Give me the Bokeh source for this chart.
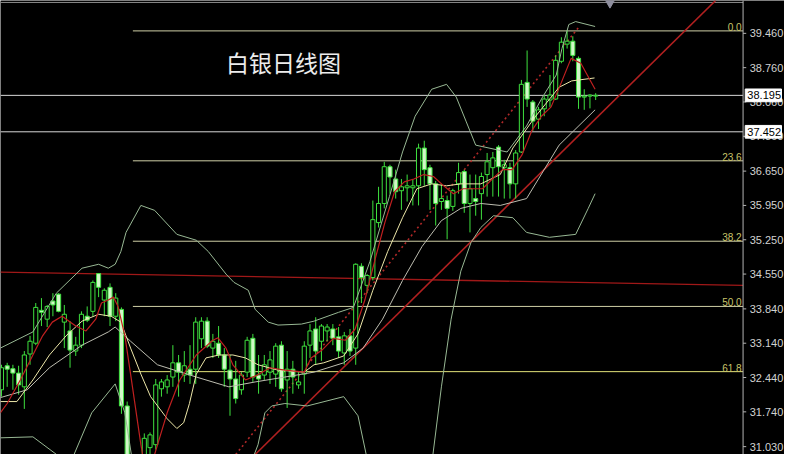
import numpy as np
from bokeh.plotting import figure
from bokeh.models import Range1d, ColumnDataSource
from bokeh.embed import file_html
from bokeh.resources import INLINE

# ---- daily candles (silver) ----
opens = [32.19, 32.68, 32.62, 32.53, 32.25, 32.92, 33.14, 33.81, 33.63, 34.00,
         34.14, 33.57, 33.39, 32.98, 33.10, 33.69, 33.79, 34.56, 34.02, 34.28,
         33.69, 33.83, 31.86, 29.60, 29.85, 30.50, 31.01, 31.07, 32.21, 32.25,
         32.45, 32.74, 32.49, 32.61, 32.61, 33.23, 33.59, 33.04, 33.14, 32.90,
         32.59, 32.41, 32.19, 32.55, 33.24, 32.49, 32.49, 32.55, 32.51, 33.10,
         32.39, 32.61, 32.29, 32.51, 33.10, 33.43, 33.18, 33.39, 33.43, 33.27,
         32.94, 33.29, 33.04, 34.71, 34.32, 34.48, 35.60, 35.99, 36.74, 36.49,
         36.25, 36.31, 36.31, 36.35, 37.12, 36.72, 36.39, 36.03, 36.05, 35.93,
         36.39, 36.64, 35.99, 36.09, 36.19, 36.58, 36.72, 37.14, 36.72, 36.72,
         36.39, 37.04, 38.46, 38.06, 37.71, 37.92, 38.10, 38.12, 38.89, 39.24,
         39.30, 38.95, 38.16, 38.18, 38.18]
highs = [32.70, 32.74, 32.70, 32.68, 32.98, 33.29, 33.96, 34.06, 33.92, 34.16,
         34.16, 33.92, 33.59, 33.27, 33.79, 33.89, 34.42, 34.57, 34.26, 34.36,
         34.16, 33.87, 31.95, 30.40, 30.50, 31.30, 31.32, 32.41, 32.41, 32.49,
         33.10, 32.90, 32.98, 33.10, 33.67, 33.67, 33.67, 33.33, 33.49, 33.04,
         32.90, 32.78, 32.55, 33.27, 33.33, 32.90, 32.90, 32.98, 33.14, 33.18,
         32.98, 32.78, 32.55, 33.18, 33.53, 33.67, 33.53, 33.53, 33.53, 33.47,
         33.37, 33.43, 34.77, 34.77, 34.55, 36.05, 36.33, 36.84, 36.78, 36.68,
         36.49, 36.58, 36.49, 37.21, 37.27, 36.78, 36.45, 36.39, 36.15, 36.29,
         36.82, 36.68, 36.58, 36.58, 36.62, 37.02, 37.04, 37.18, 36.88, 36.82,
         37.08, 38.51, 39.11, 38.10, 37.96, 38.20, 38.61, 39.01, 39.38, 39.52,
         39.40, 38.99, 38.32, 38.22, 38.24]
lows = [32.05, 32.25, 32.19, 32.09, 31.80, 32.70, 33.10, 33.49, 33.47, 33.69,
        33.77, 33.04, 32.64, 32.88, 33.04, 33.57, 33.69, 34.08, 33.69, 33.49,
        33.59, 31.70, 29.50, 28.27, 29.60, 30.20, 30.87, 30.97, 32.05, 32.11,
        32.25, 32.05, 32.35, 32.31, 32.31, 33.04, 33.04, 32.84, 32.84, 32.25,
        31.66, 31.91, 32.09, 32.45, 32.35, 32.11, 32.39, 32.31, 32.25, 32.15,
        31.82, 32.11, 32.21, 32.11, 32.84, 32.70, 32.78, 33.18, 33.10, 32.84,
        32.70, 32.88, 32.70, 33.96, 34.16, 34.42, 35.50, 35.89, 36.19, 36.09,
        35.86, 36.03, 35.95, 35.95, 36.35, 35.86, 35.54, 35.86, 35.26, 35.84,
        36.19, 35.80, 35.40, 35.74, 35.66, 36.13, 36.13, 36.13, 36.09, 36.09,
        36.09, 37.02, 37.96, 37.47, 37.51, 37.77, 37.96, 38.10, 38.85, 39.15,
        38.89, 37.92, 37.90, 37.93, 38.10]
closes = [32.64, 32.61, 32.53, 32.29, 32.90, 33.18, 33.87, 33.77, 33.89, 33.92,
          33.79, 33.73, 33.00, 33.10, 33.73, 33.61, 34.38, 34.28, 34.22, 33.69,
          34.06, 31.86, 29.60, 29.85, 30.30, 31.20, 31.27, 32.29, 32.35, 32.39,
          32.74, 32.55, 32.68, 32.49, 33.57, 33.59, 33.08, 33.18, 32.90, 32.61,
          32.41, 32.01, 32.49, 33.20, 32.45, 32.41, 32.70, 32.80, 33.08, 32.21,
          32.61, 32.45, 32.35, 33.08, 33.39, 32.98, 33.49, 33.47, 33.24, 32.98,
          33.29, 32.98, 34.75, 34.48, 34.52, 35.66, 35.99, 36.74, 36.53, 36.23,
          36.33, 36.35, 36.35, 37.12, 36.68, 36.39, 35.99, 36.09, 35.89, 36.25,
          36.62, 35.99, 36.29, 36.03, 36.54, 36.84, 36.92, 36.74, 36.78, 36.39,
          37.02, 38.42, 38.12, 37.67, 37.90, 38.12, 38.20, 38.91, 39.28, 39.30,
          39.01, 38.16, 38.18, 38.20, 38.195]

# ---- indicator lines (bar position, price) ----
nan = float("nan")
bb_up_x = [-0.2, 5.5, 9.6, 14.1, 17.0, 18.7, 19.9, 20.9, 21.8, 24.4, 26.8, 30.7, 34.1, 36.2, 39.3, 40.7, 43.2,
           44.4, 46.7, 48.4, 52.5, 54.7, 59.0, 61.6, 64.5, 67.9, 70.2, 72.4, 75.3, 77.9, 79.6, 81.3,
           83.0, 88.5, 91.9, 94.7, 97.1, 98.1, 99.3, 100.5, 103.9]
bb_up_y = [33.04, 33.37, 34.16, 34.67, 34.75, 34.67, 34.75, 35.01, 35.40, 35.95, 35.85, 35.36, 35.24, 35.01, 34.55, 34.38, 34.22,
           33.83, 33.57, 33.51, 33.53, 33.59, 33.77, 33.87, 34.81, 36.13, 37.04, 37.77, 38.32, 38.42, 38.16, 37.67,
           37.18, 37.04, 37.57, 38.16, 38.61, 39.15, 39.64, 39.70, 39.60]
bb_lo_x = [-0.2, 5.5, 10.1, 12.7, 15.8, 19.9, 21.6, 23.0, nan, 43.6, 44.9, 46.1, 47.3, 49.6, 53.5, 59.9,
           62.4, 64.2, nan, 75.3, 77.0, 78.7, 80.4, 82.2, 83.9, 86.1, 89.5, 91.9, 95.9, 100.5, 102.7, 103.9]
bb_lo_y = [31.21, 31.23, 30.83, 30.87, 31.72, 32.31, 31.72, 30.67, nan, 30.67, 31.07, 31.72, 31.86, 31.91, 31.86, 32.05,
           31.66, 30.67, nan, 30.67, 32.25, 33.63, 34.61, 35.20, 35.50, 35.74, 35.70, 35.40, 35.30, 35.36, 35.89, 36.19]
ma20_x = [-0.2, 4.5, 8.4, 14.1, 18.7, 19.9, 22.6, 27.3, 34.1, 39.8, 44.4, 49.6, 54.7, 59.9, 63.3,
          66.7, 70.2, 73.6, 77.0, 80.4, 83.9, 87.3, 91.9, 97.6, 103.9]
ma20_y = [32.03, 32.19, 32.64, 33.10, 33.37, 33.47, 33.18, 32.70, 32.45, 32.25, 32.35, 32.45, 32.55, 32.74, 33.04,
          33.63, 34.42, 35.11, 35.64, 35.89, 35.99, 35.95, 36.09, 37.18, 37.90]
ma10_x = [-0.2, 2.7, 5.5, 8.4, 11.3, 14.1, 17.0, 19.2, 20.9, 22.6, 24.4, 26.1, 29.0, 30.7, 31.9, 32.9,
          34.1, 35.8, 38.1, 40.5, 42.7, 44.9, 48.4, 53.0, 54.7, 56.4, 59.9, 62.4, 65.0, 67.6, 70.2, 72.7,
          75.3, 77.9, 80.4, 83.9, 87.3, 89.5, 93.5, 97.6, 99.8, 103.8]
ma10_y = [31.95, 31.95, 32.39, 32.90, 33.29, 33.59, 33.73, 33.69, 33.57, 33.04, 32.51, 32.05, 31.60, 31.40, 31.52, 31.91,
          32.51, 32.84, 32.90, 32.90, 32.84, 32.70, 32.59, 32.55, 32.70, 32.74, 32.88, 33.33, 34.22, 35.01, 35.70, 36.29,
          36.39, 36.35, 36.39, 36.39, 36.58, 37.12, 37.77, 38.36, 38.49, 38.55]
ma5_x = [-0.2, 1.0, 3.3, 5.5, 7.2, 8.9, 10.6, 13.0, 14.8, 16.5, 17.5, 18.7, 19.6, 20.4, 21.6, 22.6, 24.4,
         25.0, nan, 26.4, 26.8, 29.0, 31.2, 34.1, 37.0, 37.9, 39.3, 40.5, 42.7, 44.8, 47.0, 49.6, 53.0,
         54.2, 56.1, 58.1, 60.2, 61.9, 63.6, 65.3, 67.1, 68.8, 70.5, 72.2, 73.9, 75.6, 77.4, 79.1, 80.8,
         82.5, 84.2, 85.9, 87.7, 89.4, 91.1, 92.8, 94.5, 96.2, 98.0, 99.7, 101.4, 103.9]
ma5_y = [31.72, 31.91, 32.39, 32.90, 33.29, 33.57, 33.69, 33.49, 33.39, 33.63, 33.96, 34.02, 34.08, 33.89, 33.29, 32.51, 31.07,
         30.67, nan, 30.67, 30.87, 31.72, 32.39, 32.90, 33.20, 33.25, 33.04, 32.70, 32.39, 32.49, 32.64, 32.59, 32.55,
         32.84, 33.00, 33.24, 33.20, 33.43, 34.02, 34.81, 35.60, 36.23, 36.43, 36.49, 36.58, 36.54, 36.35, 36.19, 36.29,
         36.29, 36.29, 36.49, 36.68, 36.68, 36.98, 37.47, 37.77, 37.96, 38.46, 38.95, 38.85, 38.32]

# ---- drawn objects ----
flat_line_x = [-0.2, 129.8]
flat_line_y = [34.59, 34.32]
trend_x = [44.4, 125.0]
trend_y = [30.87, 40.13]
dotted_x = [41.0, 101.0]
dotted_y = [30.87, 39.58]
fib_start = 23
fib_levels = [39.51, 36.86, 35.22, 33.89, 32.56]
fib_names = ["0.0", "23.6", "38.2", "50.0", "61.8"]
price_lines = [38.195, 37.452]
price_names = ["38.195", "37.452"]
ticks = [31.03, 31.74, 32.44, 33.14, 33.84, 34.55, 35.25, 35.95, 36.65, 37.36, 38.06, 38.76, 39.46]
tick_labels = ["31.030", "31.740", "32.440", "33.140", "33.840", "34.550", "35.250",
               "35.950", "36.650", "37.360", "38.060", "38.760", "39.460"]
title_text = "白银日线图"

# view window: bar positions / prices shown (the price scale sits at the right of the frame)
X0, X1 = -0.17, 137.05
Y0, Y1 = 30.87, 40.13
XAX = 129.8          # bar position of the price-scale line

p = figure(width=784, height=454, x_range=Range1d(X0, X1), y_range=Range1d(Y0, Y1),
           x_axis_location=None, y_axis_location=None,
           output_backend="svg", toolbar_location=None,
           background_fill_color="black", border_fill_color="black",
           min_border_left=0, min_border_top=0, min_border_bottom=0, min_border_right=0,
           outline_line_color=None)
p.grid.visible = False

# top border
p.line([X0, XAX], [40.09, 40.09], line_color="#8a8a8a", line_width=1)

# fibonacci levels
for lv, nm in zip(fib_levels, fib_names):
    col = "#e4e47a" if nm == "61.8" else "#cfcfa6"
    p.line([fib_start, XAX], [lv, lv], line_color=col, line_width=1)
p.text(x=[XAX - 0.25] * len(fib_levels), y=fib_levels, text=fib_names, text_align="right",
       text_baseline="bottom", text_color="#c9c46a", text_font_size="10px",
       text_font={"value": "Liberation Sans"})

# horizontal price lines
for lv in price_lines:
    p.line([X0, XAX], [lv, lv], line_color="#d8d8d8", line_width=1)

# red drawn lines
p.line(flat_line_x, flat_line_y, line_color="#a01818", line_width=1.4)
p.line(trend_x, trend_y, line_color="#b02020", line_width=1.6)
p.line(dotted_x, dotted_y, line_color="#b02828", line_width=1.6, line_dash="2 3")

# candles
idx = list(range(len(opens)))
green = "#3ee03e"
src = ColumnDataSource(dict(
    x=idx, o=opens, h=highs, l=lows, c=closes,
    top=[max(a, b) for a, b in zip(opens, closes)],
    bot=[min(a, b) for a, b in zip(opens, closes)],
    fill=["black" if c >= o else "#d2f7c8" for o, c in zip(opens, closes)],
))
p.segment(x0="x", y0="h", x1="x", y1="l", source=src, line_color=green, line_width=1)
p.vbar(x="x", width=0.72, top="top", bottom="bot", source=src, fill_color="fill",
       line_color=green, line_width=1)

# indicators
p.line(bb_up_x, bb_up_y, line_color="#98b894", line_width=1)
p.line(bb_lo_x, bb_lo_y, line_color="#98b894", line_width=1)
p.line(ma20_x, ma20_y, line_color="#bdbdb0", line_width=1)
p.line(ma10_x, ma10_y, line_color="#ece6a8", line_width=1)
p.line(ma5_x, ma5_y, line_color="#c02020", line_width=1.2)

# shift marker
p.scatter([106.5], [40.08], marker="inverted_triangle", size=9, fill_color="#8e8e9e", line_color="#8e8e9e")

# title
p.text(x=[39.3], y=[38.87], text=[title_text], text_color="#ececec", text_font_size="23px",
       text_baseline="alphabetic", text_font={"value": "Noto Sans CJK SC"})

# price scale
p.line([XAX, XAX], [Y0, Y1], line_color="#b4b4b4", line_width=1)
p.segment(x0=[XAX] * len(ticks), y0=ticks, x1=[XAX + 0.55] * len(ticks), y1=ticks,
          line_color="#b4b4b4", line_width=1)
p.text(x=[XAX + 1.15] * len(ticks), y=ticks, text=tick_labels, text_align="left",
       text_baseline="middle", text_color="#d2d2d2", text_font_size="11px",
       text_font={"value": "Liberation Sans"})

# price tags
p.rect(x=[XAX + 3.55] * len(price_lines), y=price_lines, width=6.35, height=0.26,
       fill_color="white", line_color="white")
p.text(x=[XAX + 0.75] * len(price_lines), y=price_lines, text=price_names, text_align="left",
       text_baseline="middle", text_color="black", text_font_size="11px",
       text_font={"value": "Liberation Sans"})

open("out.html", "w").write(file_html(p, INLINE))
